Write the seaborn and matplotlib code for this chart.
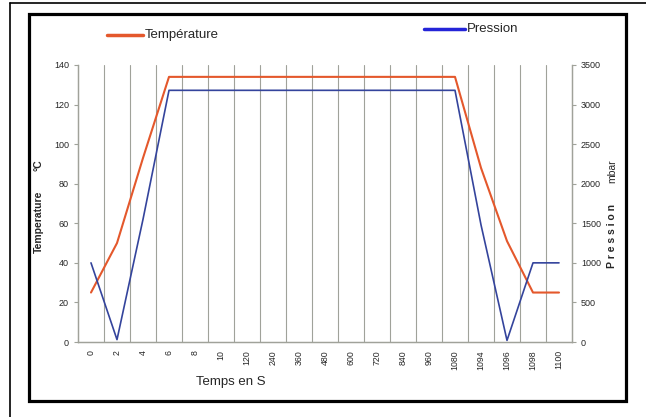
import numpy as np
import pandas as pd
import matplotlib
matplotlib.use("Agg")
import matplotlib.pyplot as plt
from matplotlib.lines import Line2D
from matplotlib.patches import Rectangle
import seaborn as sns

# Data
temps_labels = ["0", "2", "4", "6", "8", "10", "120", "240", "360", "480", "600",
                "720", "840", "960", "1080", "1094", "1096", "1098", "1100"]
temperature = [25, 50, 93, 134, 134, 134, 134, 134, 134, 134, 134,
               134, 134, 134, 134, 88, 51, 25, 25]
pression = [1000, 30, 1550, 3180, 3180, 3180, 3180, 3180, 3180, 3180, 3180,
            3180, 3180, 3180, 3180, 1480, 20, 1000, 1000]

ORANGE = "#E4582C"
BLUE = "#34449C"
GRID = "#A0A29A"

df = pd.DataFrame({"pos": np.arange(len(temps_labels)),
                   "temperature": temperature,
                   "pression": pression})

sns.set_style("white")
plt.rcParams["font.family"] = ["Liberation Sans", "DejaVu Sans"]

fig = plt.figure(figsize=(6.46, 4.17), dpi=100)
ax = fig.add_axes([78 / 646, 75 / 417, (572 - 78) / 646, (342 - 65) / 417])
ax2 = ax.twinx()

# vertical grid at category boundaries
for b in np.arange(0.5, len(temps_labels) - 0.5, 1):
    ax.axvline(b, color=GRID, lw=0.8, zorder=0)

sns.lineplot(data=df, x="pos", y="temperature", ax=ax, color=ORANGE, lw=1.5, zorder=3)
sns.lineplot(data=df, x="pos", y="pression", ax=ax2, color=BLUE, lw=1.2, zorder=3)

ax.set_xlim(-0.5, len(temps_labels) - 0.5)
ax.set_ylim(0, 140)
ax2.set_ylim(0, 3500)

ax.set_xticks(df["pos"])
ax.set_xticklabels(temps_labels, rotation=90, fontsize=6.3)
ax.set_xticks(np.arange(-0.5, len(temps_labels), 1), minor=True)
ax.tick_params(axis="x", which="major", length=0, pad=6)
ax.tick_params(axis="x", which="minor", length=3, color=GRID, direction="out")
ax.set_yticks(range(0, 141, 20))
ax.tick_params(axis="y", labelsize=6.5, length=3, color=GRID, direction="out", left=True)
ax2.set_yticks(range(0, 3501, 500))
ax2.tick_params(axis="y", labelsize=6.5, length=3, color=GRID, direction="out", right=True)

ax.set_xlabel("")
ax.set_ylabel("")
ax2.set_xlabel("")
ax2.set_ylabel("")

for a in (ax, ax2):
    a.spines["top"].set_visible(False)
    for side in ("left", "right", "bottom"):
        a.spines[side].set_color(GRID)
        a.spines[side].set_linewidth(0.9)

# axis titles
fig.text(39 / 646, 1 - 222 / 417, "Temperature", rotation=90, fontsize=7.5,
         fontweight="bold", ha="center", va="center")
fig.text(39 / 646, 1 - 165 / 417, "°C", rotation=90, fontsize=7.5,
         fontweight="bold", ha="center", va="center")
fig.text(612 / 646, 1 - 236 / 417, "P r e s s i o n", rotation=90, fontsize=7.5,
         fontweight="bold", ha="center", va="center")
fig.text(612 / 646, 1 - 171 / 417, "mbar", rotation=90, fontsize=7.5,
         ha="center", va="center")
fig.text(231 / 646, 1 - 382 / 417, "Temps en S", fontsize=9.5,
         ha="center", va="center")

# legend entries
fig.add_artist(Line2D([107 / 646, 143 / 646], [1 - 35 / 417, 1 - 35 / 417],
                      color=ORANGE, lw=2.5))
fig.text(145 / 646, 1 - 35 / 417, "Température", fontsize=9.5, va="center")
fig.add_artist(Line2D([424 / 646, 465 / 646], [1 - 29 / 417, 1 - 29 / 417],
                      color="#2424D8", lw=2.5))
fig.text(467 / 646, 1 - 29 / 417, "Pression", fontsize=9.5, va="center")

# frames
fig.add_artist(Rectangle((29 / 646, 16 / 417), (626 - 29) / 646, (401 - 14) / 417,
                         fill=False, ec="black", lw=2.3))
fig.add_artist(Line2D([10 / 646, 10 / 646], [0, 1 - 3 / 417], color="black", lw=1.2))
fig.add_artist(Line2D([10 / 646, 1], [1 - 3 / 417, 1 - 3 / 417], color="black", lw=1.2))

fig.savefig("out.png", dpi=100)
